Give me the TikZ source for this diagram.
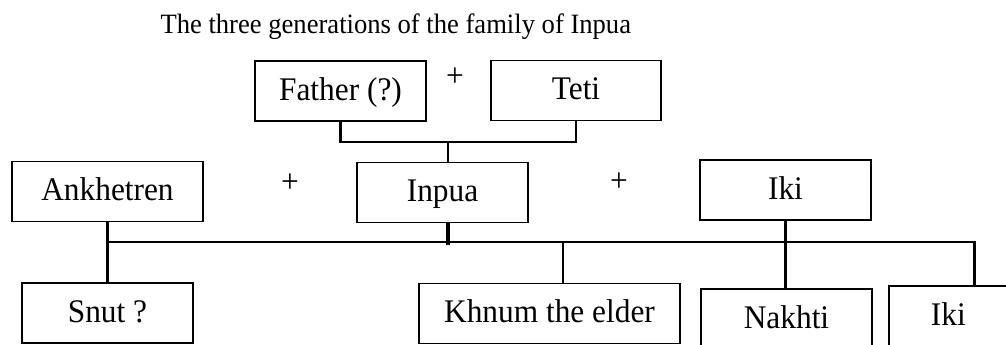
\documentclass[tikz,border=0pt]{standalone}
\usepackage{fontspec}
\setmainfont{Liberation Serif}
\newfontfamily\boxfont[FakeStretch=0.95]{Liberation Serif}
\begin{document}
\begin{tikzpicture}[x=1pt,y=-1pt,
  person/.style={draw,line width=1.8pt,minimum width=171pt,minimum height=60pt,inner sep=0pt,text height=24pt,text depth=6pt,font=\boxfont\fontsize{33}{38}\selectfont},
  plus/.style={inner sep=0pt,font=\boxfont\fontsize{33}{38}\selectfont},
  link/.style={line width=2.6pt}]

\useasboundingbox (0,0) rectangle (1006,345);

\node[anchor=base west,font=\boxfont\fontsize{28}{32}\selectfont] (title) at (157,34) {The three generations of the family of Inpua};

\node[person] (father) at (340.5,91) {Father (?)};
\node[person,minimum width=170pt] (teti) at (576,90.5) {Teti};
\node[plus] (plustop) at (455,77) {+};

\node[person,minimum width=191pt] (ankhetren) at (107.5,191.5) {Ankhetren};
\node[person] (inpua) at (442.5,192.5) {Inpua};
\node[person] (iki) at (785.5,190) {Iki};
\node[plus] (plusleft) at (290,183) {+};
\node[plus] (plusright) at (619,182) {+};

\node[person] (snut) at (107.5,313) {Snut ?};
\node[person,minimum width=261pt] (khnum) at (549.5,313.5) {Khnum the elder};
\node[person] (nakhti) at (786.5,319) {Nakhti};
\node[person,anchor=west,inner xsep=42pt,text width=87pt,align=left] (ikison) at (888,316) {Iki};

\coordinate (parents) at (448,142);
\coordinate (bar) at (0,242);
\coordinate (khnumdrop) at (563,242);

\draw[link] (father.south) |- (parents) -| (teti.south);
\draw[link] (parents) -- (parents |- inpua.north);

\draw[link] (ankhetren.south |- bar) -| (ikison.north);
\draw[link] (ankhetren.south) -- (snut.north);
\draw[line width=3.4pt] (parents |- inpua.south) -- ++(0,22);
\draw[link] (khnumdrop) -- (khnumdrop |- khnum.north);
\draw[link] (iki.south) -- (iki.south |- nakhti.north);

\end{tikzpicture}
\end{document}
